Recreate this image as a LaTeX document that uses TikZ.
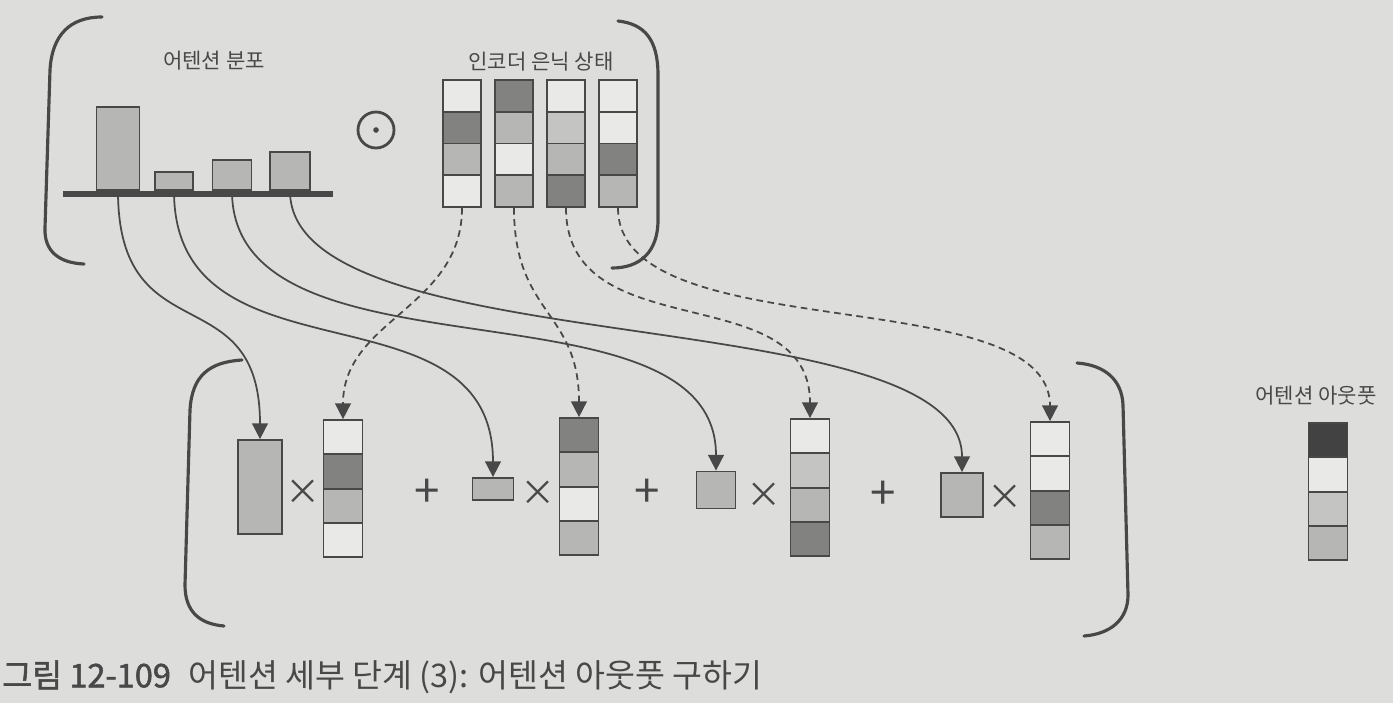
\documentclass[tikz,border=0pt]{standalone}
\usepackage{fontspec}
\setmainfont{Noto Sans CJK KR}[AutoFakeBold=1.6]
\usetikzlibrary{arrows.meta}

\definecolor{papel}{RGB}{221,221,219}
\definecolor{tinta}{RGB}{72,72,72}
\definecolor{cbranco}{RGB}{233,233,231}
\definecolor{cclaro}{RGB}{196,196,194}
\definecolor{cmedio}{RGB}{182,182,180}
\definecolor{cescuro}{RGB}{130,130,129}
\definecolor{cpreto}{RGB}{66,66,66}

\begin{document}
\begin{tikzpicture}[x=0.02cm, y=-0.02cm,
    every node/.style={font=\fontsize{12}{14}\selectfont, text=tinta},
    barra/.style={draw=tinta, line width=1pt, fill=cmedio, inner sep=0pt},
    celtopo/.style={draw=tinta, line width=1pt, minimum width=0.76cm, minimum height=0.635cm, inner sep=0pt},
    celbase/.style={draw=tinta, line width=1pt, minimum width=0.78cm, minimum height=0.685cm, inner sep=0pt},
    op/.style={font=\fontsize{26}{26}\selectfont, inner sep=0pt},
    liga/.style={tinta, line width=1pt, -{Triangle[width=9pt,length=9pt]}},
    tracejado/.style={dash pattern=on 3.8pt off 2.6pt},
    colch/.style={tinta, line width=1.8pt, line cap=round}]
    % --- fundo (papel) ---
    \fill[papel] (0,0) rectangle (1393,703);
    \useasboundingbox (0,0) rectangle (1393,703);

    % --- colchetes ---
    \draw[colch] (102,17) .. controls (70,17) and (52,35) .. (50,70)
      -- (45,228) .. controls (44,252) and (60,263) .. (84,264);
    \draw[colch] (618,21) .. controls (645,24) and (658,40) .. (658,75)
      -- (658,220) .. controls (658,252) and (640,268) .. (612,268);
    \draw[colch] (242,360) .. controls (210,362) and (192,375) .. (190,410)
      -- (185,585) .. controls (185,612) and (200,624) .. (224,626);
    \draw[colch] (1077,363) .. controls (1105,365) and (1122,380) .. (1123,405)
      -- (1128,595) .. controls (1128,620) and (1110,634) .. (1084,636);

    % --- rotulos ---
    \node (distr) at (214,61) {어텐션 분포};
    \node (ocultos) at (541,62) {인코더 은닉 상태};
    \node (saida) at (1316,396) {어텐션 아웃풋};

    % --- distribuicao de atencao (barras) ---
    \foreach \n/\xc/\w/\h in {1/118/0.86/1.66, 2/174/0.76/0.36, 3/232/0.78/0.60, 4/290/0.80/0.76}
      \node[barra, anchor=south, minimum width=\w cm, minimum height=\h cm] (b\n) at (\xc,191) {};

    % produto elemento a elemento
    \node[circle, draw=tinta, line width=1.6pt, minimum size=0.72cm, inner sep=0pt] (prod) at (376,130) {};
    \fill[tinta] (prod.center) circle (1.6pt);

    % --- estados ocultos do codificador ---
    \foreach \i/\xc/\cores in {1/462/{cbranco,cescuro,cmedio,cbranco},
                               2/514/{cescuro,cmedio,cbranco,cmedio},
                               3/566/{cbranco,cclaro,cmedio,cescuro},
                               4/618/{cbranco,cbranco,cescuro,cmedio}}
      \foreach \c [count=\k] in \cores
        \node[celtopo, fill=\c] (e\i-\k) at (\xc,{64+31.8*\k}) {};

    % --- escalares (pesos) ---
    \foreach \n/\xc/\yc/\w/\h in {1/260/487/0.88/1.88, 2/493/489/0.82/0.44,
                                  3/716/490/0.78/0.74, 4/962/495/0.84/0.88}
      \node[barra, minimum width=\w cm, minimum height=\h cm] (s\n) at (\xc,\yc) {};

    % --- vetores ponderados ---
    \foreach \i/\xc/\yt/\cores in {1/343/420/{cbranco,cescuro,cmedio,cbranco},
                                   2/579/418/{cescuro,cmedio,cbranco,cmedio},
                                   3/810/419/{cbranco,cclaro,cmedio,cescuro},
                                   4/1050/422/{cbranco,cbranco,cescuro,cmedio},
                                   5/1328/423/{cpreto,cbranco,cclaro,cmedio}}
      \foreach \c [count=\k] in \cores
        \node[celbase, fill=\c] (v\i-\k) at (\xc,{\yt+34.3*\k-17.15}) {};

    % --- operadores ---
    \foreach \n/\xc/\yc in {1/303/492, 2/538/493, 3/764/495, 4/1005/497}
      \node[op, font=\fontsize{20}{20}\selectfont] (vez\n) at (\xc,\yc) {×};
    \foreach \n/\xc/\yc in {1/427/493, 2/647/493, 3/883/495}
      \node[op] (mais\n) at (\xc,\yc) {+};

    % --- ligacoes: pesos ---
    \draw[liga] (b1.south) .. controls +(0,165) and +(0,-165) .. (s1.north);
    \draw[liga] (b2.south) .. controls +(0,200) and +(0,-200) .. (s2.north);
    \draw[liga] (b3.south) .. controls +(0,200) and +(0,-200) .. (s3.north);
    \draw[liga] (b4.south) .. controls +(0,175) and +(0,-175) .. (s4.north);

    % --- ligacoes: estados ocultos ---
    \draw[liga, tracejado] (e1-4.south) .. controls +(0,100) and +(0,-100) .. (v1-1.north);
    \draw[liga, tracejado] (e2-4.south) .. controls +(0,107) and +(0,-107) .. (v2-1.north);
    \draw[liga, tracejado] (e3-4.south) .. controls +(0,142) and +(0,-142) .. (v3-1.north);
    \draw[liga, tracejado] (e4-4.south) .. controls +(0,142) and +(0,-142) .. (v4-1.north);

    % eixo das barras
    \draw[tinta, line width=0.12cm] (63,194) -- (333,194);

    % --- legenda ---
    \node[anchor=west, inner sep=0pt, font=\fontsize{18.5}{20}\selectfont] (legenda) at (2,677)
      {\textbf{그림 12-109}\hspace{0.55em}어텐션 세부 단계 (3): 어텐션 아웃풋 구하기};
  \end{tikzpicture}
\end{document}
